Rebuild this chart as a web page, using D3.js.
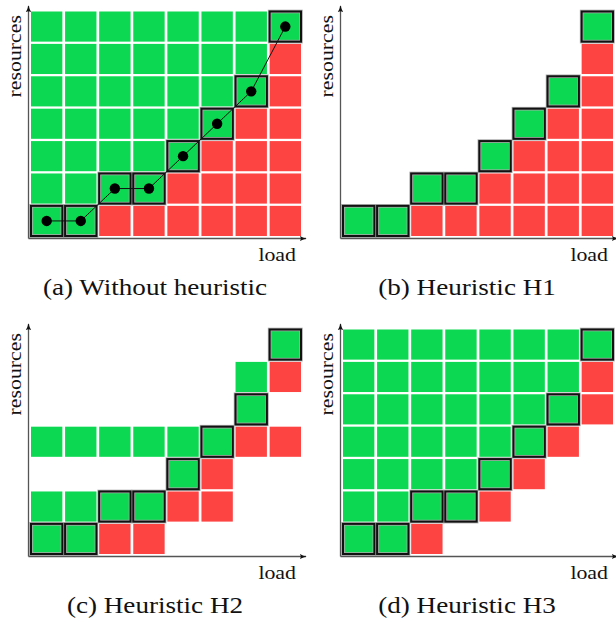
<!DOCTYPE html>
<html>
<head>
<meta charset="utf-8">
<script src="https://cdn.jsdelivr.net/npm/d3@7"></script>
<style>
  body { margin: 0; background: #fff; }
  text { font-family: "Liberation Serif", "Times New Roman", serif; }
</style>
</head>
<body>
<div id="chart"></div>
<script>
// load levels (columns) and resource levels (rows)
const loads = [0, 1, 2, 3, 4, 5, 6, 7];
const resources = [0, 1, 2, 3, 4, 5, 6];

// cell states per panel, top row first: g = ok, r = too few, H = chosen config, . = not evaluated
const gridA = [
  "gggggggH",
  "gggggggr",
  "ggggggHr",
  "gggggHrr",
  "ggggHrrr",
  "ggHHrrrr",
  "HHrrrrrr"
];
const gridB = [
  ".......H",
  ".......r",
  "......Hr",
  ".....Hrr",
  "....Hrrr",
  "..HHrrrr",
  "HHrrrrrr"
];
const gridC = [
  ".......H",
  "......gr",
  "......H.",
  "gggggHrr",
  "....Hr..",
  "ggHHrr..",
  "HHrr...."
];
const gridD = [
  "gggggggH",
  "gggggggr",
  "ggggggHr",
  "gggggHr.",
  "ggggHr..",
  "ggHHr...",
  "HHr....."
];
const captions = ["(a) Without heuristic", "(b) Heuristic H1", "(c) Heuristic H2", "(d) Heuristic H3"];

const width = 616, height = 622;
const green = "#0cd851", red = "#fe4343";

const svg = d3.select("#chart").append("svg")
  .attr("width", width).attr("height", height);

const defs = svg.append("defs");
defs.append("marker")
  .attr("id", "arrow")
  .attr("viewBox", "0 0 10 10")
  .attr("refX", 9).attr("refY", 5)
  .attr("markerWidth", 7).attr("markerHeight", 7)
  .attr("markerUnits", "userSpaceOnUse")
  .attr("orient", "auto")
  .append("path")
  .attr("d", "M0,1 Q5,4 10,5 Q5,6 0,9 Q3,5 0,1 Z")
  .attr("fill", "#111");

const x = d3.scaleBand().domain(loads).range([31, 301]).paddingInner(0.08);
const y = d3.scaleBand().domain(resources).range([236, 11.5]).paddingInner(0.07);

const panels = [
  { grid: gridA, dx: 0, dy: 0, path: true },
  { grid: gridB, dx: 312, dy: 0 },
  { grid: gridC, dx: 0, dy: 318 },
  { grid: gridD, dx: 312, dy: 318 }
];

panels.forEach((p, i) => {
  const g = svg.append("g").attr("transform", `translate(${p.dx},${p.dy})`);

  // grid -> list of cells
  const cells = [];
  p.grid.forEach((row, ri) => {
    const res = resources[resources.length - 1 - ri];
    row.split("").forEach((ch, ci) => {
      if (ch !== ".") cells.push({ load: loads[ci], res: res, state: ch });
    });
  });

  g.selectAll("rect.cell")
    .data(cells)
    .join("rect")
    .attr("class", "cell")
    .attr("x", d => x(d.load))
    .attr("y", d => y(d.res))
    .attr("width", x.bandwidth())
    .attr("height", y.bandwidth())
    .attr("fill", d => d.state === "r" ? red : green);

  const chosen = cells.filter(d => d.state === "H").sort((a, b) => a.load - b.load);

  // highlighted frames: soft grey halo then black border
  g.selectAll("rect.halo")
    .data(chosen)
    .join("rect")
    .attr("class", "halo")
    .attr("x", d => x(d.load))
    .attr("y", d => y(d.res))
    .attr("width", x.bandwidth())
    .attr("height", y.bandwidth())
    .attr("fill", "none")
    .attr("stroke", "#aaa")
    .attr("stroke-width", 3.6);
  g.selectAll("rect.frame")
    .data(chosen)
    .join("rect")
    .attr("class", "frame")
    .attr("x", d => x(d.load))
    .attr("y", d => y(d.res))
    .attr("width", x.bandwidth())
    .attr("height", y.bandwidth())
    .attr("fill", "none")
    .attr("stroke", "#111")
    .attr("stroke-width", 2);

  if (p.path) {
    const cx = d => x(d.load) + x.bandwidth() / 2;
    const cy = d => y(d.res) + y.bandwidth() / 2;
    g.append("path")
      .datum(chosen)
      .attr("d", d3.line().x(cx).y(cy))
      .attr("fill", "none")
      .attr("stroke", "#111")
      .attr("stroke-width", 1);
    g.selectAll("circle")
      .data(chosen)
      .join("circle")
      .attr("cx", cx)
      .attr("cy", cy)
      .attr("r", 5.2)
      .attr("fill", "#000");
  }

  // axes with arrow heads
  g.append("line")
    .attr("x1", 28.5).attr("y1", 238.5).attr("x2", 28.5).attr("y2", 6)
    .attr("stroke", "#555").attr("stroke-width", 1.3)
    .attr("marker-end", "url(#arrow)");
  g.append("line")
    .attr("x1", 28.5).attr("y1", 238.5).attr("x2", 306).attr("y2", 238.5)
    .attr("stroke", "#555").attr("stroke-width", 1.3)
    .attr("marker-end", "url(#arrow)");

  // axis labels (widened a little to mimic the Computer Modern look)
  g.append("text")
    .attr("transform", "translate(296,260.5) scale(1.15,1)")
    .attr("text-anchor", "end")
    .attr("font-size", 19)
    .attr("fill", "#111")
    .text("load");
  g.append("text")
    .attr("transform", "translate(20.5,15) rotate(-90) scale(1.15,1)")
    .attr("text-anchor", "end")
    .attr("font-size", 19)
    .attr("fill", "#111")
    .text("resources");

  g.append("text")
    .attr("transform", "translate(155,295) scale(1.13,1)")
    .attr("text-anchor", "middle")
    .attr("font-size", 24)
    .attr("fill", "#111")
    .text(captions[i]);
});
</script>
</body>
</html>
